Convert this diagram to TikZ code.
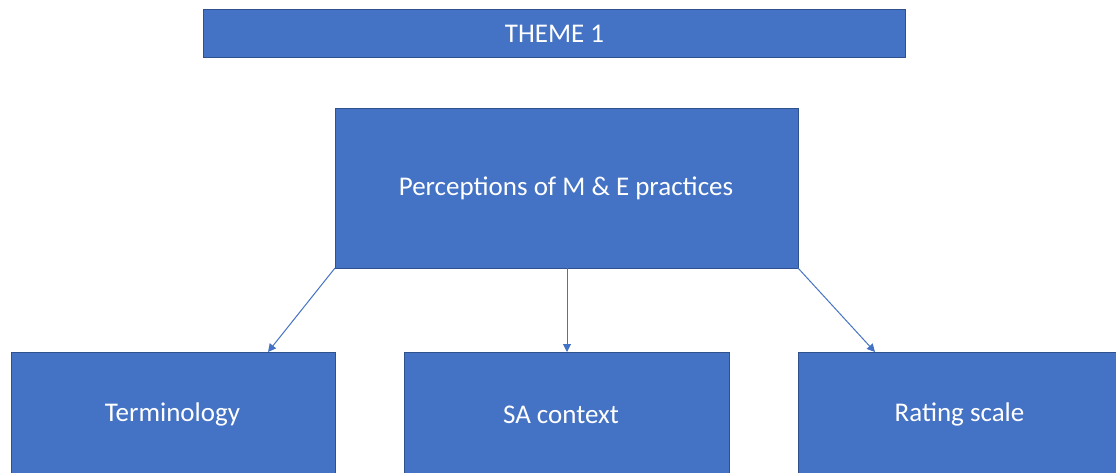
\documentclass[tikz,border=0pt]{standalone}
\usepackage{fontspec}
\setmainfont{Carlito}
\usetikzlibrary{arrows.meta}
\definecolor{boxfill}{HTML}{4472C4}
\definecolor{boxline}{HTML}{2F528F}
\definecolor{linkline}{HTML}{4472C4}
\begin{document}
\begin{tikzpicture}[x=1pt,y=-1pt,
  box/.style={draw=boxline,line width=0.8pt,fill=boxfill,text=white,inner sep=0pt},
  label/.style={text=white,font=\fontsize{27}{31}\selectfont},
  link/.style={draw=linkline,line width=1pt,-{Triangle[length=8pt,width=8pt]}}]
\useasboundingbox (0,0) rectangle (1116,472);
\clip (0,0) rectangle (1116,472);
% heading bar
\draw[box] (203,9.5) rectangle (905,57.5);
\node[label] (theme) at (554.5,33.5) {THEME 1};
% central topic
\draw[box] (335,108) rectangle (798,268);
\coordinate (pbl) at (335,268);
\coordinate (pbm) at (567,268);
\coordinate (pbr) at (798,268);
\node[label] (perc) at (566,188.5) {Perceptions of M \& E practices};
% sub-topics
\draw[box] (11,352) rectangle (335,480);
\draw[box] (404,352) rectangle (729,480);
\draw[box] (798,352) rectangle (1125,480);
\node[label] (term) at (172.5,414.5) {Terminology};
\node[label] (sa) at (561,414.5) {SA context};
\node[label] (rate) at (959.5,414.5) {Rating scale};
\coordinate (tt) at (268,352);
\coordinate (st) at (567,352);
\coordinate (rt) at (875,352);
% connectors
\draw[link] (pbl) -- (tt);
\draw[link] (pbm) -- (st);
\draw[link] (pbr) -- (rt);
\end{tikzpicture}
\end{document}
